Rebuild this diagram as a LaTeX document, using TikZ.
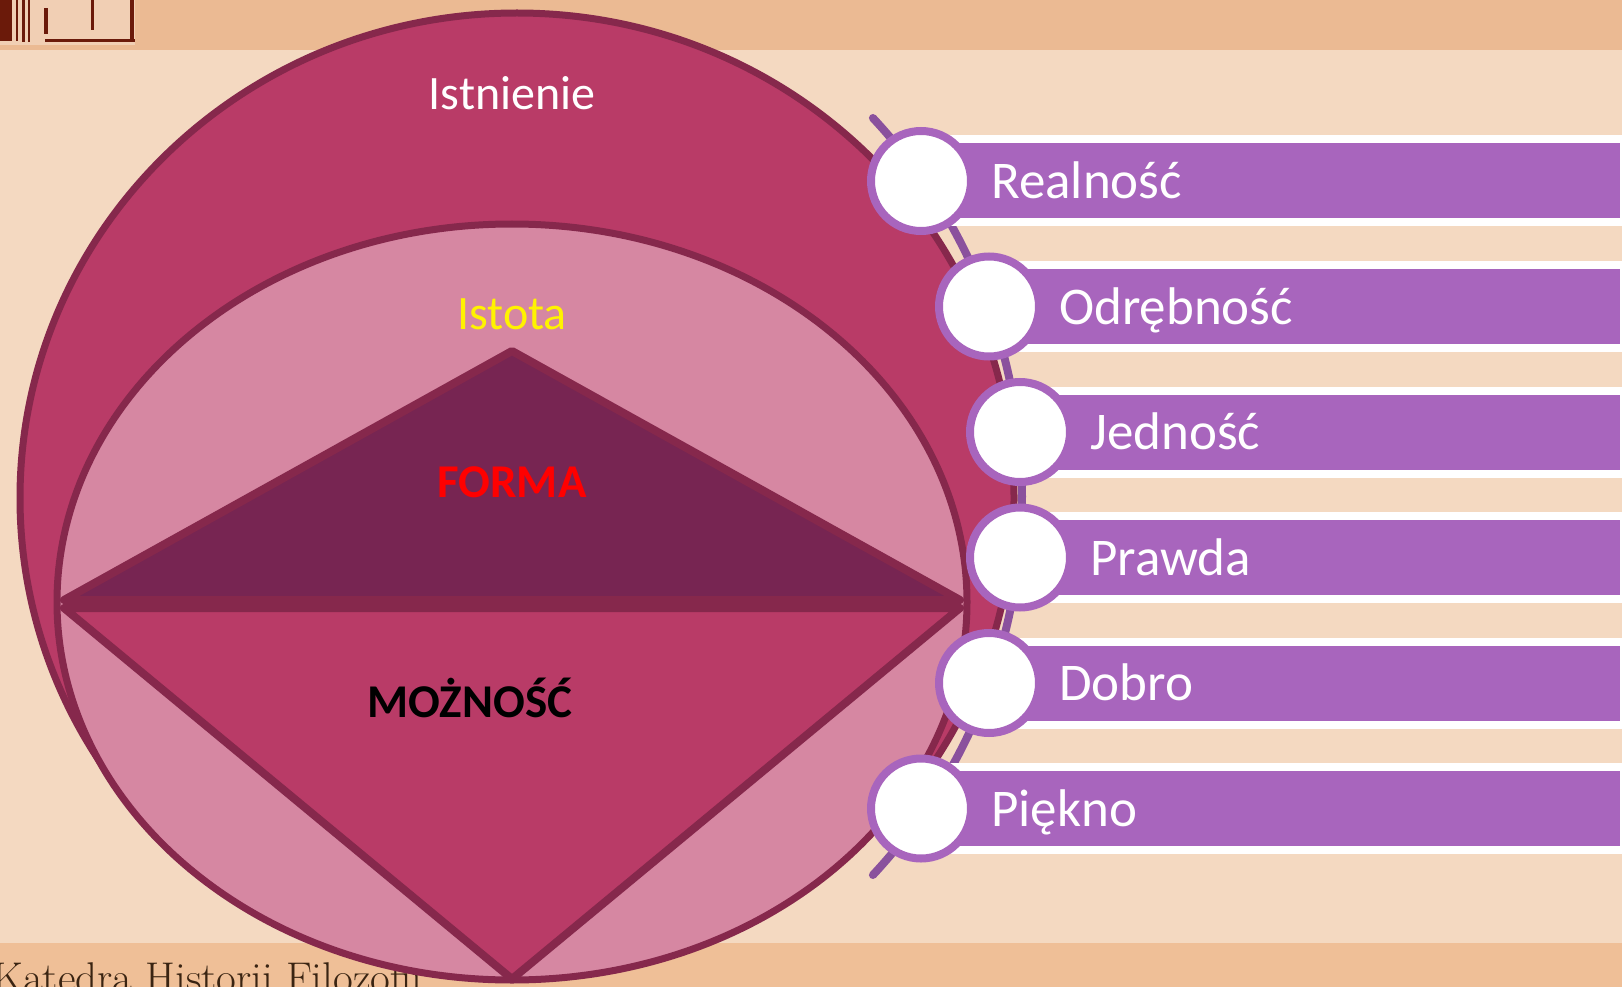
\documentclass[tikz,border=0pt]{standalone}
\usepackage{fontspec}
\setsansfont{Carlito}
\usetikzlibrary{positioning,calc}
\definecolor{hgtop}{HTML}{EBBA93}
\definecolor{hgmitte}{HTML}{F4D9C1}
\definecolor{hgfuss}{HTML}{EFBF97}
\definecolor{rand}{HTML}{86284C}
\definecolor{karmin}{HTML}{B93B67}
\definecolor{rosa}{HTML}{D687A2}
\definecolor{dunkel}{HTML}{772552}
\definecolor{lila}{HTML}{A865BD}
\definecolor{bogenfarbe}{HTML}{8A519D}
\definecolor{braun}{HTML}{6B1A0A}
\definecolor{schrift}{HTML}{3A2412}
\begin{document}
\begin{tikzpicture}[x=1pt, y=-1pt,
  titel/.style={anchor=base, inner sep=0pt, font=\sffamily\fontsize{48}{48}\selectfont},
  fett/.style={anchor=base, inner sep=0pt, font=\sffamily\fontsize{47}{47}\selectfont\bfseries},
  balken/.style={draw=white, line width=8pt, fill=lila, anchor=west, minimum height=83pt, inner sep=0pt},
  kreis/.style={circle, draw=lila, line width=8pt, fill=white, minimum size=100pt, inner sep=0pt},
  balkentext/.style={text=white, inner sep=0pt, text height=35pt, text depth=0pt, font=\sffamily\fontsize{53}{53}\selectfont}]
  \useasboundingbox (0,0) rectangle (1622,987);

  % Hintergrund
  \fill[hgmitte] (0,0) rectangle (1622,987);
  \fill[hgtop] (0,0) rectangle (1622,50);
  \fill[hgfuss] (0,943) rectangle (1622,987);
  \fill[hgtop!70!white] (0,0) rectangle (135,45);
  \fill[braun] (0,0) rectangle (12,41);
  \fill[braun] (16,0) rectangle (18,41);
  \fill[braun] (22,0) rectangle (25,42);
  \fill[braun] (28,0) rectangle (30,42);
  \fill[braun] (44,8) rectangle (48,34);
  \fill[braun] (91,0) rectangle (94,30);
  \fill[braun] (45,39) rectangle (135,42);
  \fill[braun] (130,0) rectangle (134,40);
  \begin{scope}
    \clip (0,943) rectangle (1622,987);
    \node[anchor=base west, inner sep=0pt, text=schrift, font=\rmfamily\fontsize{43}{43}\selectfont] (katedra) at (-8,992) {Katedra Historii Filozofii};
  \end{scope}

  % Ellipsen, Dreieck und Raute
  \begin{scope}
    \clip (0,0) -- (1622,0) -- (1622,762) -- (0,768) -- cycle;
    \draw[rand, line width=7pt, fill=karmin] (517,498) ellipse [x radius=497, y radius=485];
  \end{scope}
  \draw[rand, line width=7pt, fill=rosa] (512,602) ellipse [x radius=455, y radius=378];
  \draw[rand, line width=8pt, fill=dunkel, line join=round] (512,351) -- (64,600) -- (960,600) -- cycle;
  \draw[rand, line width=8pt, fill=karmin, line join=round] (64,608) -- (512,979) -- (960,608) -- cycle;

  \node[titel, text=white] (istnienie) at (512,110) {Istnienie};
  \node[titel, text=yellow] (istota) at (512,329) {Istota};
  \node[fett, text=red] (forma) at (512,497) {FORMA};
  \node[fett, text=black] (moznosc) at (470,717) {MOŻNOŚĆ};

  % Bogen
  \coordinate (mitte) at (467,496.5);
  \draw[bogenfarbe, line width=8pt, line cap=round] ($(mitte)+(-43:555)$) arc[start angle=-43, end angle=43, radius=555];

  % Balken
  \coordinate (p1) at (921,181);
  \coordinate (p2) at (989,306.5);
  \coordinate (p3) at (1020,432);
  \coordinate (p4) at (1020,557.5);
  \coordinate (p5) at (989,683);
  \coordinate (p6) at (921,808.5);
  \node[balken, minimum width=699pt] (b1) at (p1) {};
  \node[balken, minimum width=631pt] (b2) at (p2) {};
  \node[balken, minimum width=600pt] (b3) at (p3) {};
  \node[balken, minimum width=600pt] (b4) at (p4) {};
  \node[balken, minimum width=631pt] (b5) at (p5) {};
  \node[balken, minimum width=699pt] (b6) at (p6) {};

  % Kreise
  \node[kreis] (c1) at (p1) {};
  \node[kreis] (c2) at (p2) {};
  \node[kreis] (c3) at (p3) {};
  \node[kreis] (c4) at (p4) {};
  \node[kreis] (c5) at (p5) {};
  \node[kreis] (c6) at (p6) {};

  \node[balkentext, right=16pt of c1] (realnosc) {Realność};
  \node[balkentext, right=16pt of c2] (odrebnosc) {Odrębność};
  \node[balkentext, right=16pt of c3] (jednosc) {Jedność};
  \node[balkentext, right=16pt of c4] (prawda) {Prawda};
  \node[balkentext, right=16pt of c5] (dobro) {Dobro};
  \node[balkentext, right=16pt of c6] (piekno) {Piękno};
\end{tikzpicture}
\end{document}
